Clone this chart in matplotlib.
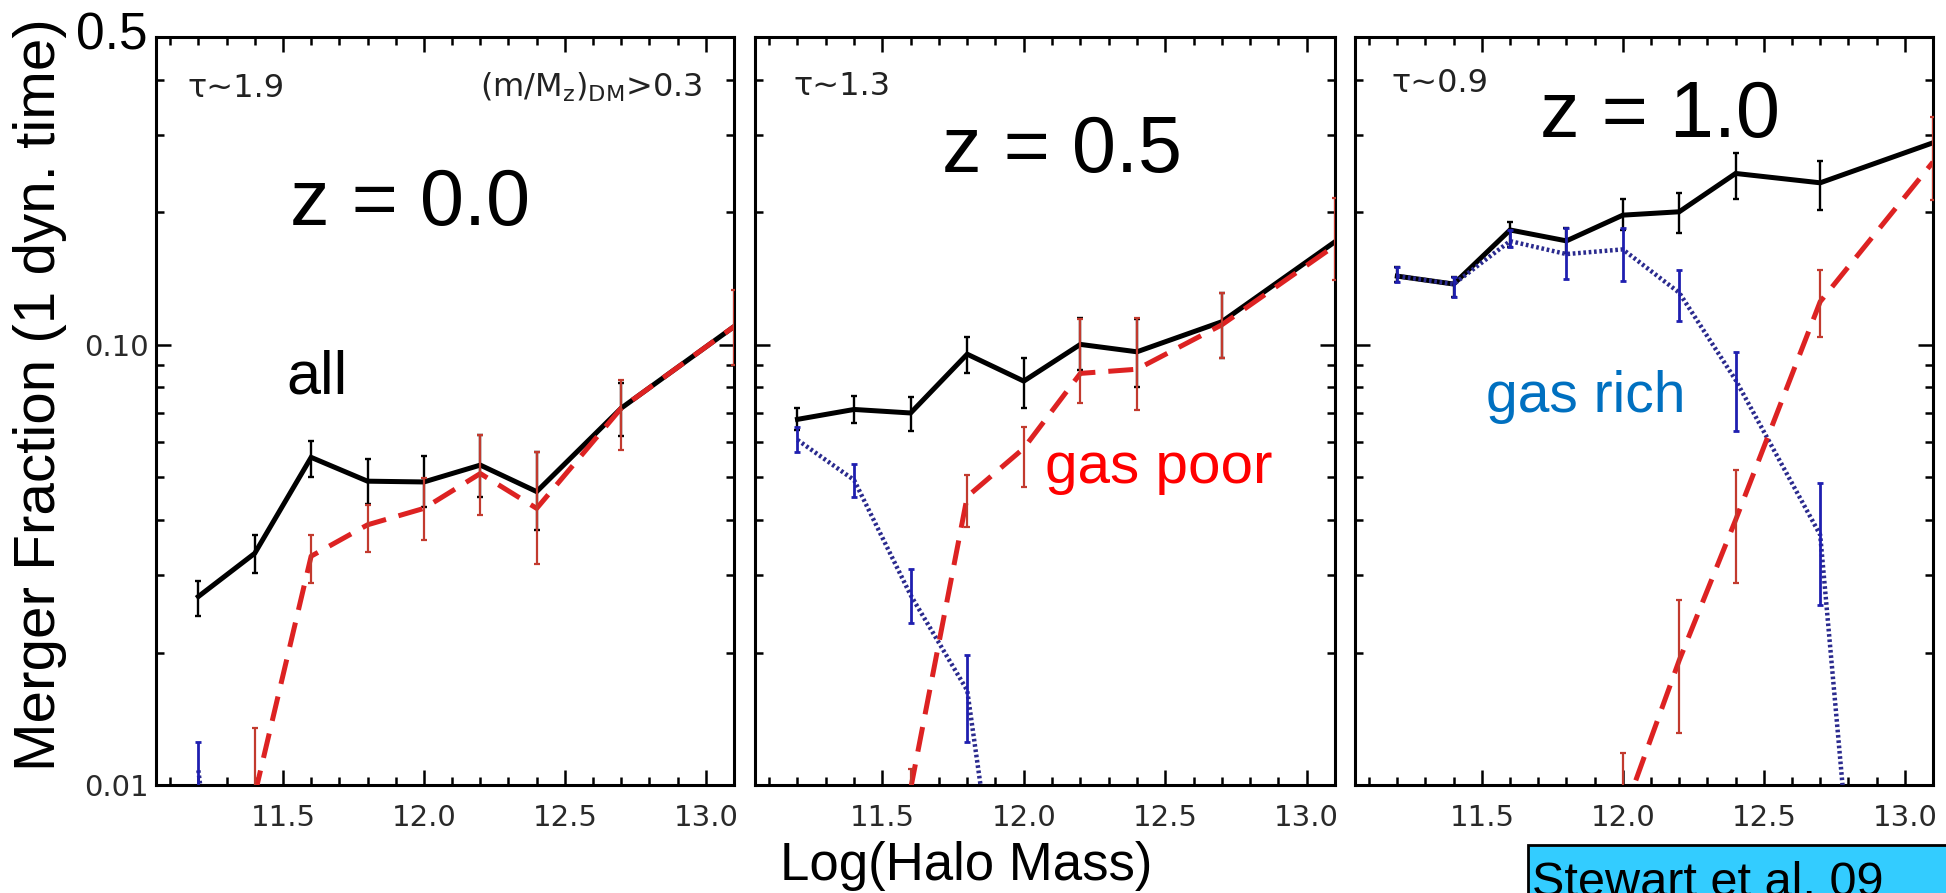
import numpy as np
import matplotlib
matplotlib.use("Agg")
from matplotlib import pyplot as plt
from matplotlib.patches import Rectangle
from matplotlib.ticker import MultipleLocator, FixedLocator, NullFormatter, FixedFormatter

# log halo mass bins (same for every panel)
mass = [11.2, 11.4, 11.6, 11.8, 12.0, 12.2, 12.4, 12.7, 13.1]
nan = np.nan

# z = 0.0
all_z0 = [0.0268, 0.0336, 0.0555, 0.049, 0.0488, 0.0533, 0.0464, 0.0718, 0.110]
all_z0_lo = [0.0242, 0.0303, 0.050, 0.0436, 0.0429, 0.0452, 0.0379, 0.062, nan]
all_z0_hi = [0.0290, 0.0370, 0.0605, 0.0549, 0.0559, 0.0624, 0.0570, 0.082, nan]
poor_z0 = [nan, 0.0095, 0.0331, 0.039, 0.0425, 0.051, 0.0425, 0.0718, 0.110]
poor_z0_lo = [nan, 0.0075, 0.0287, 0.0339, 0.0360, 0.041, 0.0318, 0.0576, 0.090]
poor_z0_hi = [nan, 0.0135, 0.0370, 0.0432, 0.0497, 0.0624, 0.0570, 0.0832, 0.133]
rich_z0 = [0.0108, 0.001, nan, nan, nan, nan, nan, nan, nan]
rich_z0_lo = [0.0095, nan, nan, nan, nan, nan, nan, nan, nan]
rich_z0_hi = [0.0125, nan, nan, nan, nan, nan, nan, nan, nan]

# z = 0.5
all_z05 = [0.0677, 0.0713, 0.070, 0.0952, 0.0827, 0.1002, 0.0964, 0.1128, 0.1714]
all_z05_lo = [0.064, 0.0663, 0.0638, 0.0861, 0.0717, 0.0876, 0.080, 0.0935, nan]
all_z05_hi = [0.0717, 0.0765, 0.0763, 0.104, 0.0931, 0.1148, 0.1145, 0.1309, nan]
poor_z05 = [nan, nan, 0.0098, 0.0452, 0.0582, 0.0861, 0.088, 0.111, 0.168]
poor_z05_lo = [nan, nan, 0.0085, 0.0386, 0.0476, 0.0737, 0.071, 0.0935, 0.140]
poor_z05_hi = [nan, nan, 0.0109, 0.0506, 0.0652, 0.1145, 0.115, 0.1309, 0.216]
rich_z05 = [0.0608, 0.0493, 0.027, 0.0164, 0.002, nan, nan, nan, nan]
rich_z05_lo = [0.057, 0.0452, 0.0233, 0.0125, nan, nan, nan, nan, nan]
rich_z05_hi = [0.065, 0.0537, 0.031, 0.0197, nan, nan, nan, nan, nan]

# z = 1.0
all_z1 = [0.1432, 0.1374, 0.1823, 0.1722, 0.197, 0.2005, 0.245, 0.2333, 0.2876]
all_z1_lo = [0.139, 0.1285, 0.167, 0.1613, 0.1822, 0.179, 0.2138, 0.2023, nan]
all_z1_hi = [0.1504, 0.1427, 0.1903, 0.1838, 0.2138, 0.2214, 0.272, 0.2618, nan]
poor_z1 = [nan, nan, nan, nan, 0.0085, 0.0192, 0.040, 0.1253, 0.260]
poor_z1_lo = [nan, nan, nan, nan, 0.007, 0.0131, 0.0287, 0.1043, 0.213]
poor_z1_hi = [nan, nan, nan, nan, 0.0118, 0.0263, 0.0519, 0.1475, 0.330]
rich_z1 = [0.1432, 0.1374, 0.172, 0.1607, 0.1647, 0.1313, 0.0832, 0.037, 5e-5]
rich_z1_lo = [0.139, 0.1285, 0.167, 0.141, 0.1393, 0.1133, 0.0637, 0.0256, nan]
rich_z1_hi = [0.1504, 0.1427, 0.1822, 0.184, 0.184, 0.1475, 0.0964, 0.0486, nan]

panel_titles = ['z = 0.0', 'z = 0.5', 'z = 1.0']
tau_labels = ['\u03c4~1.9', '\u03c4~1.3', '\u03c4~0.9']

panels = [
    (all_z0, all_z0_lo, all_z0_hi, poor_z0, poor_z0_lo, poor_z0_hi, rich_z0, rich_z0_lo, rich_z0_hi),
    (all_z05, all_z05_lo, all_z05_hi, poor_z05, poor_z05_lo, poor_z05_hi, rich_z05, rich_z05_lo, rich_z05_hi),
    (all_z1, all_z1_lo, all_z1_hi, poor_z1, poor_z1_lo, poor_z1_hi, rich_z1, rich_z1_lo, rich_z1_hi),
]

ARIAL = 'Liberation Sans'
fig = plt.figure(figsize=(19.46, 8.93), dpi=100)
fig.patch.set_facecolor('white')

ax_pos = [[0.0802, 0.1209, 0.2970, 0.8376],
          [0.3880, 0.1209, 0.2980, 0.8376],
          [0.6963, 0.1209, 0.2970, 0.8376]]
title_pos = [(0.44, 0.749), (0.529, 0.8195), (0.527, 0.866)]
tau_pos = [(0.054, 0.92), (0.066, 0.922), (0.064, 0.927)]


def draw_series(ax, y, lo, hi, color, ls, lw, ecolor, elw, z):
    x = np.array(mass)
    y = np.array(y, dtype=float)
    lo = np.array(lo, dtype=float)
    hi = np.array(hi, dtype=float)
    ax.plot(x, y, color=color, ls=ls, lw=lw, zorder=z, solid_joinstyle='miter')
    ok = ~np.isnan(lo)
    ax.errorbar(x[ok], y[ok], yerr=[y[ok] - lo[ok], hi[ok] - y[ok]], fmt='none',
                ecolor=ecolor, elinewidth=elw, capsize=2.5, capthick=elw, zorder=z + 0.5)


axes = []
for i, p in enumerate(panels):
    ax = fig.add_axes(ax_pos[i])
    axes.append(ax)
    ax.set_yscale('log')
    ax.set_xlim(11.05, 13.1)
    ax.set_ylim(0.01, 0.5)

    draw_series(ax, p[0], p[1], p[2], 'black', '-', 3.6, 'black', 1.7, 3)
    draw_series(ax, p[6], p[7], p[8], '#2a2a8e', (0, (0.6, 0.6)), 3.2, '#1f1fb0', 2.0, 4)
    draw_series(ax, p[3], p[4], p[5], '#dd2222', (0, (5, 2.6)), 3.6, '#c23a2e', 1.6, 5)

    for s in ax.spines.values():
        s.set_linewidth(2.2)
    ax.xaxis.set_major_locator(MultipleLocator(0.5))
    ax.xaxis.set_minor_locator(MultipleLocator(0.1))
    ax.yaxis.set_major_locator(FixedLocator([0.01, 0.1]))
    ax.yaxis.set_minor_locator(FixedLocator([0.02, 0.03, 0.04, 0.05, 0.06, 0.07, 0.08, 0.09,
                                             0.2, 0.3, 0.4]))
    ax.yaxis.set_minor_formatter(NullFormatter())
    ax.tick_params(which='both', direction='in', top=True, right=True, width=1.8,
                   labelsize=21, labelcolor='#2a2a2a')
    ax.tick_params(which='major', length=11)
    ax.tick_params(which='minor', length=5.5)
    ax.tick_params(axis='x', pad=14)
    ax.tick_params(axis='y', pad=5)
    ax.set_xticks([11.5, 12.0, 12.5, 13.0])
    ax.set_xticklabels(['11.5', '12.0', '12.5', '13.0'])
    if i == 0:
        ax.yaxis.set_major_formatter(FixedFormatter(['0.01', '0.10']))
    else:
        ax.set_yticklabels([])

    ax.text(title_pos[i][0], title_pos[i][1], panel_titles[i], transform=ax.transAxes,
            ha='center', va='baseline', fontsize=57, family=ARIAL)
    ax.text(tau_pos[i][0], tau_pos[i][1], tau_labels[i], transform=ax.transAxes,
            ha='left', va='baseline', fontsize=23, color='#222222')

axes[0].text(0.946, 0.92, r'$(\mathrm{m/M_z})_{\mathrm{DM}}$>0.3', transform=axes[0].transAxes,
             ha='right', va='baseline', fontsize=23, color='#222222')
axes[0].text(0.279, 0.524, 'all', transform=axes[0].transAxes, ha='center', va='baseline',
             fontsize=44, family=ARIAL)
axes[1].text(0.697, 0.404, 'gas poor', transform=axes[1].transAxes, ha='center', va='baseline',
             fontsize=42, family=ARIAL, color='#ff0000')
axes[2].text(0.40, 0.499, 'gas rich', transform=axes[2].transAxes, ha='center', va='baseline',
             fontsize=41, family=ARIAL, color='#0070c0')

# big top tick label and axis titles
fig.text(147 / 1946, 1 - 50 / 893, '0.5', ha='right', va='baseline', fontsize=37, family=ARIAL)
fig.text(0.0205, 0.5577, 'Merger Fraction (1 dyn. time)', rotation=90, ha='center', va='center',
         fontsize=42, family=ARIAL)
fig.text(0.4964, 0.0146, 'Log(Halo Mass)', ha='center', va='baseline', fontsize=38, family=ARIAL)

# citation box in the bottom right corner
fig.patches.append(Rectangle((1528 / 1946, -0.05), 0.3, 0.05 + 48 / 893, transform=fig.transFigure,
                             facecolor='#33ccff', edgecolor='black', lw=2, zorder=10))
fig.text(1532 / 1946, -0.003, 'Stewart et al. 09', ha='left', va='baseline', fontsize=35,
         family=ARIAL, zorder=11)

fig.savefig('out.png', dpi=100)
